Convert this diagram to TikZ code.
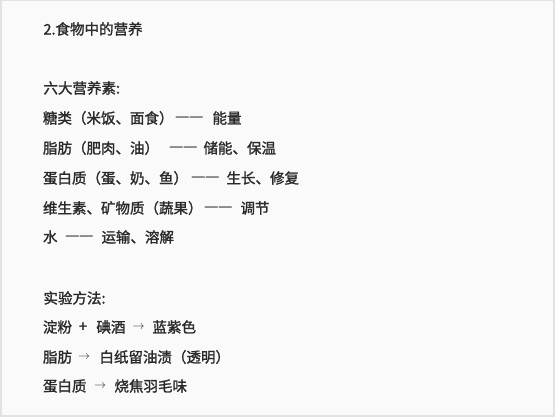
\documentclass[tikz,border=0pt]{standalone}
\usepackage{fontspec}
\setmainfont{Noto Sans CJK SC}[FakeBold=1.5]
\newfontfamily\symfont{DejaVu Sans}
\definecolor{bgc}{HTML}{FAFAFA}
\definecolor{edgec}{HTML}{E2E2E2}
\definecolor{txt}{HTML}{2A2A2A}
\tikzset{
  txtline/.style={anchor=west, inner sep=0pt, outer sep=0pt, text=txt, font=\fontsize{14.5}{16}\selectfont},
  arrowtxt/.style={anchor=west, inner sep=0pt, outer sep=0pt, text=txt, font=\fontsize{12.5}{14}\selectfont},
  dashtxt/.style={anchor=west, inner sep=0pt, outer sep=0pt, text=txt, font=\symfont\fontsize{14.5}{15}\selectfont},
}
\begin{document}
\begin{tikzpicture}[x=1pt,y=-1pt]
\useasboundingbox (0,0) rectangle (555,417);
\fill[edgec] (0,0) rectangle (555,417);
\fill[bgc] (1.5,1.5) rectangle (553,415);
% title
\node[txtline] (t0) at (43.5,29) {2.食物中的营养};
\node[txtline] (t1) at (43.5,88) {六大营养素:};
% nutrient lines
\node[txtline] (a1) at (43,118) {糖类（米饭、面食）};
\node[dashtxt] (a2) at (175,119) {—\kern-0.5pt—};
\node[txtline] (a3) at (212.5,118) {能量};
\node[txtline] (b1) at (43,148) {脂肪（肥肉、油）};
\node[dashtxt] (b2) at (169,149) {—\kern-0.5pt—};
\node[txtline] (b3) at (203.5,148) {储能、保温};
\node[txtline] (c1) at (43,178) {蛋白质（蛋、奶、鱼）};
\node[dashtxt] (c2) at (191,179) {—\kern-0.5pt—};
\node[txtline] (c3) at (226.5,178) {生长、修复};
\node[txtline] (d1) at (43,208) {维生素、矿物质（蔬果）};
\node[dashtxt] (d2) at (204,209) {—\kern-0.5pt—};
\node[txtline] (d3) at (240.5,208) {调节};
\node[txtline] (e1) at (43,237) {水};
\node[dashtxt] (e2) at (65,238) {—\kern-0.5pt—};
\node[txtline] (e3) at (101.5,237) {运输、溶解};
% methods
\node[txtline] (t2) at (43.5,298) {实验方法:};
\node[txtline] (f1) at (43,327) {淀粉};
\node[txtline] (f2) at (79,327) {+};
\node[txtline] (f3) at (96.5,327) {碘酒};
\node[arrowtxt] (f4) at (132.5,327.5) {$\rightarrow$};
\node[txtline] (f5) at (152.5,327) {蓝紫色};
\node[txtline] (g1) at (43,357) {脂肪};
\node[arrowtxt] (g2) at (78,357.5) {$\rightarrow$};
\node[txtline] (g3) at (99.5,357) {白纸留油渍（透明）};
\node[txtline] (h1) at (43,386) {蛋白质};
\node[arrowtxt] (h2) at (94,386.5) {$\rightarrow$};
\node[txtline] (h3) at (114.5,386) {烧焦羽毛味};
\end{tikzpicture}
\end{document}
